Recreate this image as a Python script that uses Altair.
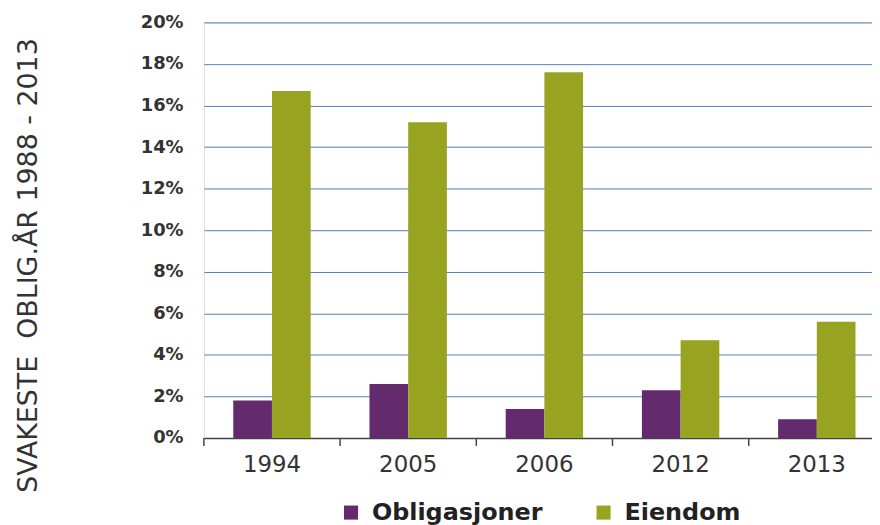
import altair as alt
import pandas as pd

years = ["1994", "2005", "2006", "2012", "2013"]
obligasjoner = [1.8, 2.6, 1.4, 2.3, 0.9]
eiendom = [16.7, 15.2, 17.6, 4.7, 5.6]
series = ["Obligasjoner", "Eiendom"]
colors = ["#632a6e", "#99a322"]
y_ticks = [0, 2, 4, 6, 8, 10, 12, 14, 16, 18, 20]
y_title = "SVAKESTE\u00a0\u00a0OBLIG.ÅR 1988 - 2013"

rows = []
for i, y in enumerate(years):
    rows.append({"year": y, "serie": "Obligasjoner", "value": obligasjoner[i] / 100})
    rows.append({"year": y, "serie": "Eiendom", "value": eiendom[i] / 100})
df = pd.DataFrame(rows)

W, H = 672, 418
FONT = "DejaVu Sans"

xscale = alt.Scale(domain=years, paddingInner=0, paddingOuter=0, range=[0, 685])

bars = alt.Chart(df).mark_bar().encode(
    x=alt.X("year:N", scale=xscale, sort=years,
            axis=alt.Axis(title=None, labelAngle=0, ticks=False, domain=True,
                          domainColor="#444444", domainWidth=1.5,
                          labelFont=FONT, labelFontSize=23, labelColor="#333333",
                          labelPadding=16)),
    xOffset=alt.XOffset("serie:N", sort=series,
                        scale=alt.Scale(domain=series, paddingInner=0, paddingOuter=0.76)),
    y=alt.Y("value:Q",
            scale=alt.Scale(domain=[0, 0.2], nice=False),
            axis=alt.Axis(values=[v / 100 for v in y_ticks], format=".0%",
                          title=y_title,
                          titleFont=FONT, titleFontSize=27, titleFontWeight="normal",
                          titleColor="#333333", titlePadding=98, titleY=244,
                          labelFont=FONT, labelFontSize=18, labelFontWeight="bold",
                          labelColor="#333333", labelPadding=21,
                          domain=False, ticks=False,
                          grid=True, gridColor="#4f81bd", gridWidth=1)),
    color=alt.Color("serie:N", sort=series,
                    scale=alt.Scale(domain=series, range=colors),
                    legend=alt.Legend(title=None, orient="none", direction="horizontal",
                                      legendX=136, legendY=481,
                                      symbolType="square", symbolSize=200,
                                      symbolStrokeWidth=0, symbolOpacity=1,
                                      labelFont=FONT, labelFontSize=24,
                                      labelFontWeight="bold", labelColor="#222222",
                                      labelOffset=9,
                                      columnPadding=49, labelLimit=300)),
)

tick_df = pd.DataFrame({"year": years})
ticks_start = alt.Chart(tick_df).mark_rule(color="#444444", strokeWidth=1.5).encode(
    x=alt.X("year:N", scale=xscale, sort=years, bandPosition=0),
    y=alt.value(H),
    y2=alt.value(H + 8),
)

chart = alt.layer(bars, ticks_start).properties(
    width=W, height=H,
    autosize=alt.AutoSizeParams(type="none"),
    padding={"left": 197, "top": 13, "right": 0, "bottom": 88},
).configure_view(stroke=None).configure(background="white")

chart.save("out.html", embed_options={"renderer": "svg", "actions": False})
